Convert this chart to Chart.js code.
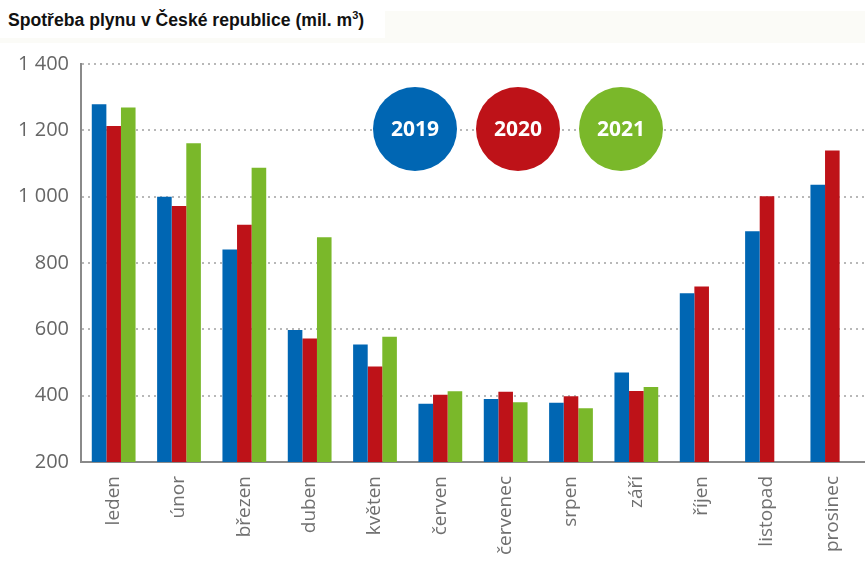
<!DOCTYPE html>
<html>
<head>
<meta charset="utf-8">
<script src="https://cdn.jsdelivr.net/npm/chart.js@4.4.1/dist/chart.umd.min.js"></script>
<style>
  html, body { margin: 0; padding: 0; background: #fff; }
  #wrap { position: relative; width: 865px; height: 565px; overflow: hidden; }
  #band { position: absolute; left: 0; top: 11px; width: 865px; height: 32px; background: #fbfbf7; }
  #title {
    position: absolute; left: 0; top: 0; width: 385px; height: 38px;
    padding-left: 8px; box-sizing: border-box; line-height: 40px;
    font: bold 17.6px "Liberation Sans", Arial, sans-serif; color: #111;
    white-space: nowrap; background: #fff;
  }
  #title span { line-height: 40px; }
  #title sup { font-size: 11px; line-height: 0; }
  canvas { position: absolute; left: 0; top: 0; }
</style>
</head>
<body>
<div id="wrap">
  <div id="band"></div>
  <div id="title"><span>Spotřeba plynu v České republice (mil. m<sup>3</sup>)</span></div>
  <canvas id="chart" width="865" height="565"></canvas>
</div>
<script>
// data
const months = ["leden", "únor", "březen", "duben", "květen", "červen",
  "červenec", "srpen", "září", "říjen", "listopad", "prosinec"];
const years = ["2019", "2020", "2021"];
const values2019 = [1279, 1000, 841, 598, 554, 376, 390, 379, 470, 709, 896, 1036];
const values2020 = [1213, 972, 915, 572, 488, 403, 412, 398, 414, 729, 1001, 1139];
const values2021 = [1269, 1161, 1087, 878, 578, 413, 380, 362, 426, null, null, null];
const yTicks = [200, 400, 600, 800, 1000, 1200, 1400];

const colors = ["#0066b3", "#be1218", "#7ab82a"];

// kolecka s roky
const yearCircles = {
  id: "yearCircles",
  afterDatasetsDraw(chart) {
    const ctx = chart.ctx;
    const centers = [415, 518, 621];
    chart.data.datasets.forEach((ds, i) => {
      ctx.save();
      ctx.beginPath();
      ctx.arc(centers[i], 129, 42, 0, Math.PI * 2);
      ctx.fillStyle = ds.backgroundColor;
      ctx.fill();
      ctx.fillStyle = "#fff";
      ctx.font = "bold 21px 'Open Sans', sans-serif";
      ctx.textAlign = "center";
      ctx.textBaseline = "middle";
      ctx.fillText(ds.label, centers[i], 130);
      ctx.restore();
    });
  }
};

const ctx = document.getElementById("chart").getContext("2d");
new Chart(ctx, {
  type: "bar",
  data: {
    labels: months,
    datasets: [values2019, values2020, values2021].map((d, i) => ({
      label: years[i],
      data: d,
      backgroundColor: colors[i],
      borderWidth: 0
    }))
  },
  options: {
    responsive: false,
    animation: false,
    layout: { padding: { top: 64, right: 0, left: 0, bottom: 0 } },
    datasets: { bar: { categoryPercentage: 0.67, barPercentage: 1 } },
    plugins: {
      legend: { display: false },
      tooltip: { enabled: false }
    },
    scales: {
      x: {
        grid: { display: false },
        border: { color: "#8a8a8a", width: 2 },
        afterFit: s => { s.height = 103; },
        ticks: {
          minRotation: 90, maxRotation: 90, padding: 6,
          color: "#707070",
          font: { family: "'Open Sans', sans-serif", size: 19 }
        }
      },
      y: {
        min: 200, max: 1400,
        afterFit: s => { s.width = 81; },
        afterBuildTicks: s => { s.ticks = yTicks.map(v => ({ value: v })); },
        border: { color: "#8a8a8a", width: 2, dash: [2, 4] },
        grid: {
          color: "#b8b8b8", lineWidth: 2,
          drawTicks: false
        },
        ticks: {
          padding: 12, color: "#666",
          font: { family: "'Open Sans', sans-serif", size: 20 },
          callback: v => v.toLocaleString("cs-CZ").replace(/\s/g, " ")
        }
      }
    }
  },
  plugins: [yearCircles]
});
</script>
</body>
</html>
